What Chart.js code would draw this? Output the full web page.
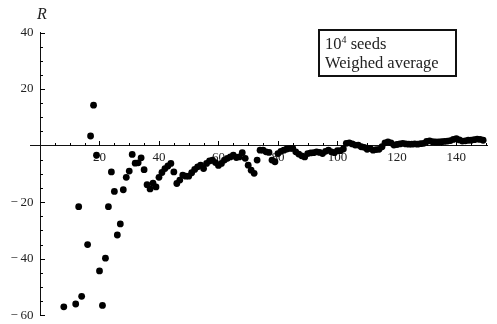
<!DOCTYPE html>
<html>
<head>
<meta charset="utf-8">
<script src="https://cdn.jsdelivr.net/npm/chart.js@4/dist/chart.umd.min.js"></script>
<style>
  html, body { margin: 0; padding: 0; background: #fff; }
  #wrap { position: relative; width: 497px; height: 324px; }
  #c { position: absolute; left: 0; top: 0; }
  #rlabel { position: absolute; left: 37px; top: 5px; font: italic 16px "Liberation Serif", serif; color: #222; }
  #legend { position: absolute; left: 318px; top: 29px; width: 130px; height: 44px; border: 2px solid #111;
            font: 16.5px "Liberation Serif", serif; color: #222; padding: 0 0 0 5px; box-sizing: content-box; line-height: 19px; }
  #legend div:first-child { margin-top: 3px; }
  #legend sup { font-size: 10px; vertical-align: 6px; line-height: 0; }
</style>
</head>
<body>
<div id="wrap">
  <canvas id="c" width="497" height="324"></canvas>
  <div id="rlabel">R</div>
  <div id="legend"><div>10<sup>4</sup> seeds</div><div>Weighed average</div></div>
</div>
<script>
const xValues = [8, 12, 13, 14, 16, 17, 18, 19, 20, 21, 22, 23, 24, 25, 26, 27, 28, 29, 30,
  31, 32, 33, 34, 35, 36, 37, 38, 39, 40, 41, 42, 43, 44, 45, 46, 47, 48, 49, 50,
  51, 52, 53, 54, 55, 56, 57, 58, 59, 60, 61, 62, 63, 64, 65, 66, 67, 68, 69, 70,
  71, 72, 73, 74, 75, 76, 77, 78, 79, 80, 81, 82, 83, 84, 85, 86, 87, 88, 89, 90,
  91, 92, 93, 94, 95, 96, 97, 98, 99, 100, 101, 102, 103, 104, 105, 106, 107, 108, 109, 110,
  111, 112, 113, 114, 115, 116, 117, 118, 119, 120, 121, 122, 123, 124, 125, 126, 127, 128, 129, 130,
  131, 132, 133, 134, 135, 136, 137, 138, 139, 140, 141, 142, 143, 144, 145, 146, 147, 148, 149];
const rValues = [-57.0, -56.0, -21.6, -53.3, -35.0, 3.4, 14.3, -3.4, -44.3, -56.5, -39.8, -21.6, -9.3, -16.2, -31.6, -27.7, -15.6, -11.2, -9.0,
  -3.1, -6.2, -6.1, -4.3, -8.5, -13.8, -15.3, -13.3, -14.6, -11.2, -9.5, -8.1, -7.2, -6.3, -9.3, -13.4, -12.2, -10.4, -10.8, -10.8,
  -9.6, -8.4, -7.5, -6.9, -8.1, -6.3, -5.4, -5.1, -6.0, -7.0, -6.3, -5.1, -4.5, -4.0, -3.4, -4.2, -4.0, -2.5, -4.5, -6.9,
  -8.7, -9.8, -5.1, -1.6, -1.6, -2.2, -2.4, -5.1, -5.7, -2.8, -2.0, -1.6, -1.2, -1.0, -1.0, -2.2, -3.0, -3.6, -4.0, -2.8,
  -2.6, -2.5, -2.2, -2.4, -2.8, -2.0, -1.6, -2.2, -2.5, -1.8, -1.8, -1.2, 0.8, 1.0, 0.6, 0.2, 0.2, -0.4, -0.6, -1.3,
  -1.0, -1.6, -1.4, -1.3, -0.4, 1.0, 1.3, 1.0, 0.2, 0.4, 0.6, 0.8, 0.6, 0.5, 0.5, 0.6, 0.5, 0.7, 0.8, 1.5,
  1.7, 1.4, 1.3, 1.3, 1.4, 1.5, 1.6, 1.8, 2.2, 2.5, 2.0, 1.6, 1.7, 1.9, 1.9, 2.1, 2.3, 2.2, 1.9];
const xTickLabels = [20, 40, 60, 80, 100, 120, 140];
const yTickLabels = [-60, -40, -20, 20, 40];

const points = xValues.map((x, i) => ({ x: x, y: rValues[i] }));

const minorTicks = {
  id: 'minorTicks',
  afterDraw(chart) {
    const ctx = chart.ctx, xs = chart.scales.x, ys = chart.scales.y;
    const x0 = xs.getPixelForValue(0), y0 = ys.getPixelForValue(0);
    ctx.save();
    ctx.strokeStyle = '#000';
    ctx.lineWidth = 1;
    ctx.beginPath();
    for (let v = 5; v <= xs.max; v += 5) {
      const px = Math.round(xs.getPixelForValue(v)) + 0.5;
      const len = v % 20 === 0 ? 5 : 3;
      ctx.moveTo(px, Math.round(y0));
      ctx.lineTo(px, Math.round(y0) - len);
    }
    for (let v = ys.min; v <= ys.max; v += 5) {
      if (v === 0) continue;
      const py = Math.round(ys.getPixelForValue(v)) + 0.5;
      const len = v % 20 === 0 ? 5 : 3;
      ctx.moveTo(Math.round(x0), py);
      ctx.lineTo(Math.round(x0) + len, py);
    }
    ctx.stroke();
    ctx.restore();
  }
};

new Chart(document.getElementById('c'), {
  type: 'scatter',
  data: {
    datasets: [{
      data: points,
      backgroundColor: '#000',
      borderColor: '#000',
      pointRadius: 3.4,
      pointHoverRadius: 3.4,
      borderWidth: 0
    }]
  },
  options: {
    responsive: false,
    animation: false,
    events: [],
    layout: { padding: { left: 30.5, right: 10, top: 32.5, bottom: 8.7 } },
    plugins: { legend: { display: false }, tooltip: { enabled: false } },
    scales: {
      x: {
        type: 'linear',
        min: -3.2,
        max: 150.3,
        position: { y: 0 },
        afterBuildTicks: (s) => { s.ticks = xTickLabels.map(v => ({ value: v })); },
        ticks: {
          autoSkip: false,
          maxRotation: 0,
          padding: 4,
          color: '#222',
          font: { family: '"Liberation Serif", serif', size: 13 },
          callback: (v) => String(v)
        },
        grid: { display: false, drawTicks: false },
        border: { display: true, color: '#111', width: 1 }
      },
      y: {
        type: 'linear',
        min: -60,
        max: 40,
        position: { x: 0 },
        afterBuildTicks: (s) => { s.ticks = yTickLabels.map(v => ({ value: v })); },
        ticks: {
          autoSkip: false,
          padding: 0,
          color: '#222',
          font: { family: '"Liberation Serif", serif', size: 13 },
          callback: (v) => (v < 0 ? '\u2212\u2009' + Math.abs(v) : String(v)) + '\u2002'
        },
        grid: { display: false, drawTicks: false },
        border: { display: true, color: '#111', width: 1 }
      }
    }
  },
  plugins: [minorTicks]
});
</script>
</body>
</html>
